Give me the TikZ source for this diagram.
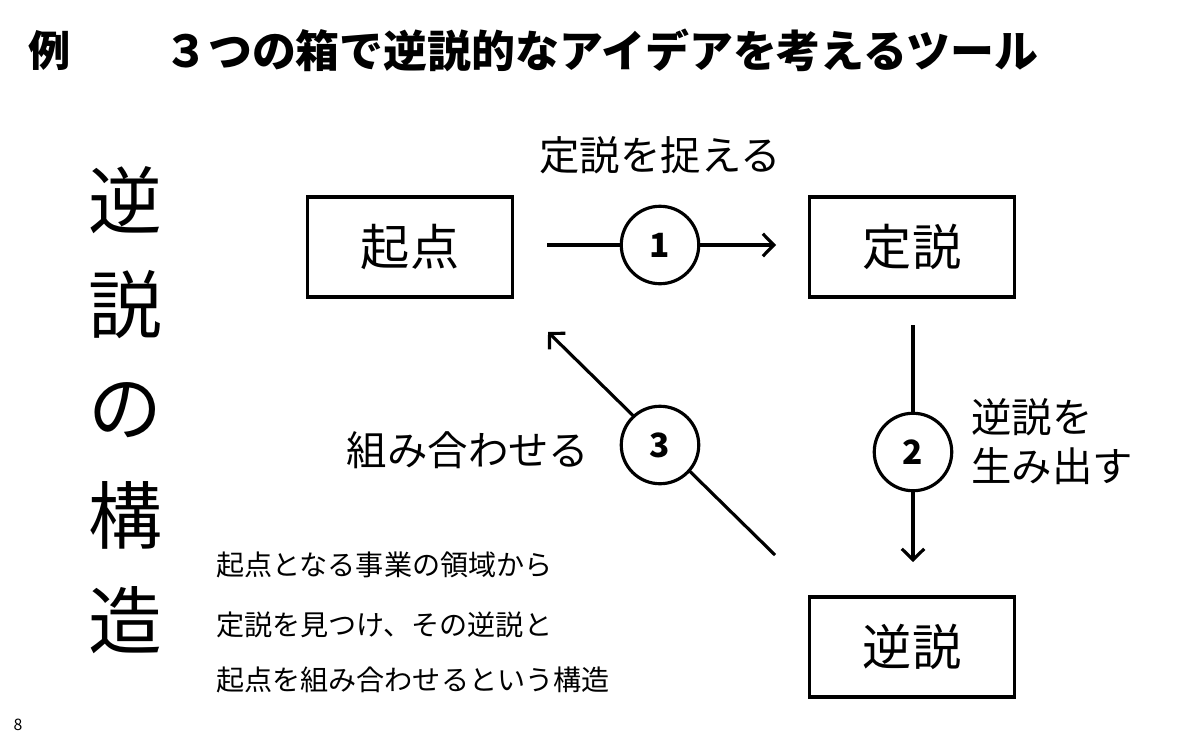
\documentclass[tikz,border=0pt]{standalone}
\usepackage{fontspec}
\setmainfont{Noto Sans CJK JP}
\usetikzlibrary{arrows.meta, positioning}
\tikzset{
    box/.style = {draw=black, line width=1.8pt, minimum width=4.1cm, minimum height=2cm,
        font=\fontsize{28}{30}\selectfont},
    stepnum/.style = {circle, draw=black, fill=white, line width=1.8pt, minimum size=1.55cm,
        inner sep=0pt, font=\bfseries\fontsize{19}{20}\selectfont},
    flow/.style = {line width=1.8pt, -{Straight Barb[length=2.2mm,width=4.5mm,line width=1.8pt]}},
    lbl/.style = {font=\fontsize{23}{28}\selectfont},
    note/.style = {font=\fontsize{16}{18}\selectfont, anchor=west},
    vert/.style = {font=\fontsize{42}{42}\selectfont},
}
\begin{document}
\begin{tikzpicture}[x=0.02cm,y=-0.02cm]
        \useasboundingbox (0,0) rectangle (1200,750);
        % title
        \node (ex) at (50,50) {\bfseries\fontsize{24}{26}\selectfont 例};
        \node (title) [anchor=west] at (158,50) {\bfseries\fontsize{25}{26}\selectfont ３つの箱で逆説的なアイデアを考えるツール};
        % vertical heading
        \foreach \ch [count=\i] in {逆,説,の,構,造}
            \node (v\i) [vert] at (125,95+105*\i) {\ch};
        % boxes
        \node (start) [box] at (410,247) {起点};
        \node (thesis) [box] at (912,247) {定説};
        \node (paradox) [box] at (912,647) {逆説};
        % connectors
        \coordinate (s1) at (547,245);
        \coordinate (e1) at (776,245);
        \coordinate (s2) at (913,325);
        \coordinate (e2) at (913,562);
        \coordinate (s3) at (775,555);
        \coordinate (e3) at (548,332);
        \draw [flow] (s1) -- (e1);
        \draw [flow] (s2) -- (e2);
        \draw [flow] (s3) -- (e3);
        \node (c1) [stepnum] at (660,245) {1};
        \node (c2) [stepnum] at (913,452) {2};
        \node (c3) [stepnum] at (660,445) {3};
        % labels
        \node (l1) [lbl] at (660,155) {定説を捉える};
        \node (l2) [lbl, align=left, anchor=west] at (965,442) {逆説を\\生み出す};
        \node (l3) [lbl] at (468,450) {組み合わせる};
        \node (n1) [note] at (210,565) {起点となる事業の領域から};
        \node (n2) [note] at (210,625) {定説を見つけ、その逆説と};
        \node (n3) [note] at (210,680) {起点を組み合わせるという構造};
        \node (page) at (18,725) {\fontsize{9}{10}\selectfont 8};
\end{tikzpicture}
\end{document}
